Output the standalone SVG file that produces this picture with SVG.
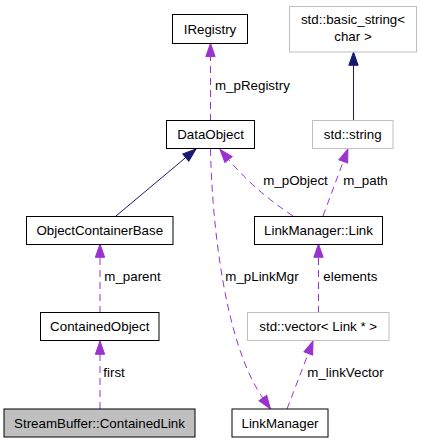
<svg xmlns="http://www.w3.org/2000/svg" width="421" height="443" viewBox="0 0 421 443">
<style>
.node rect{fill:#ffffff;stroke:#000000;stroke-width:1}
.node.ext rect{stroke:#bfbfbf}
.node.cur rect{fill:#bfbfbf}
text{font-family:"Liberation Sans",Arial,sans-serif;font-size:13.33px;fill:#000000}
.node text{text-anchor:middle}
.use{fill:none;stroke:#9a32cd;stroke-width:1;stroke-dasharray:7,5;marker-end:url(#ap)}
.inh{fill:none;stroke:#191970;stroke-width:1;marker-end:url(#an)}
</style>
<defs>
<marker id="ap" markerUnits="userSpaceOnUse" markerWidth="16" markerHeight="12" refX="0" refY="4.65" orient="auto" overflow="visible">
<path d="M0,0 L13.3,4.65 L0,9.3 z" fill="#9a32cd" stroke="#9a32cd" stroke-width="1"/>
</marker>
<marker id="an" markerUnits="userSpaceOnUse" markerWidth="16" markerHeight="12" refX="0" refY="4.65" orient="auto" overflow="visible">
<path d="M0,0 L13.3,4.65 L0,9.3 z" fill="#191970" stroke="#191970" stroke-width="1"/>
</marker>
</defs>
<g id="connectors">
<path class="use" d="M210.5,121 L210.5,56.6"/>
<text x="215" y="89.5">m_pRegistry</text>
<path class="inh" d="M353.5,121 L353.5,65.3"/>
<path class="inh" d="M116,216 L185.8,157.5"/>
<path class="use" d="M293,216 Q254,190 228.5,159.5"/>
<text x="263.3" y="185">m_pObject</text>
<path class="use" d="M323,216 L343.3,161.5"/>
<text x="343.3" y="185">m_path</text>
<path class="use" d="M210.5,149 C212,225 225,344 262.9,398.1"/>
<text x="225.3" y="281">m_pLinkMgr</text>
<path class="use" d="M318.5,313 L318.5,257.3"/>
<text x="323.3" y="281">elements</text>
<path class="use" d="M100,313 L100,257.3"/>
<text x="104.3" y="281">m_parent</text>
<path class="use" d="M100,409 L100,354.3"/>
<text x="103.3" y="376.7">first</text>
<path class="use" d="M287,409 L308.3,353.4"/>
<text x="307.3" y="376.7">m_linkVector</text>
</g>
<g id="IRegistry" class="node"><rect x="172.5" y="14.5" width="75" height="29"/><text x="210" y="33.5">IRegistry</text></g>
<g id="basic_string" class="node ext"><rect x="289.5" y="6.5" width="127" height="45.5"/><text x="353" y="24">std::basic_string&lt;</text><text x="353" y="40.5">char &gt;</text></g>
<g id="DataObject" class="node"><rect x="166.5" y="120.5" width="88" height="28"/><text x="210.5" y="139">DataObject</text></g>
<g id="std_string" class="node ext"><rect x="312.5" y="120.5" width="80.5" height="28"/><text x="352.75" y="139">std::string</text></g>
<g id="ObjectContainerBase" class="node"><rect x="26.5" y="216.5" width="146.5" height="28"/><text x="99.75" y="235">ObjectContainerBase</text></g>
<g id="LinkManager_Link" class="node"><rect x="254.5" y="216.5" width="128" height="28"/><text x="318.5" y="235">LinkManager::Link</text></g>
<g id="ContainedObject" class="node"><rect x="40.5" y="312.5" width="118.5" height="28"/><text x="99.75" y="331">ContainedObject</text></g>
<g id="std_vector" class="node ext"><rect x="247.5" y="312.5" width="141.5" height="28"/><text x="318.25" y="331">std::vector&lt; Link * &gt;</text></g>
<g id="ContainedLink" class="node cur"><rect x="4" y="409" width="191" height="28"/><text x="99.5" y="427.5">StreamBuffer::ContainedLink</text></g>
<g id="LinkManager" class="node"><rect x="232" y="409" width="96" height="28"/><text x="280" y="427.5">LinkManager</text></g>
</svg>
